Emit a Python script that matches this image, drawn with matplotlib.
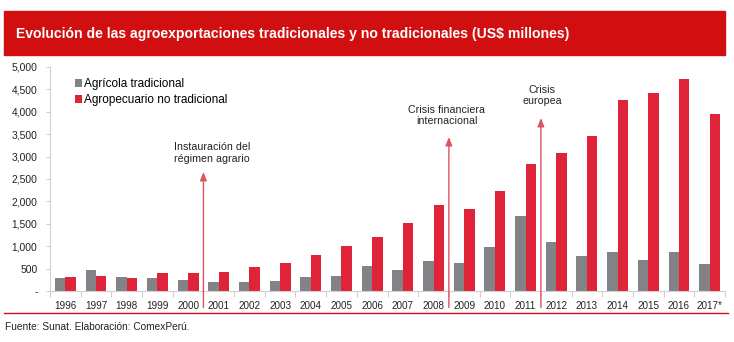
import numpy as np
import matplotlib.pyplot as plt
from matplotlib.patches import Rectangle
from matplotlib.lines import Line2D

#Data
years = ["1996", "1997", "1998", "1999", "2000", "2001", "2002", "2003", "2004", "2005", "2006",
         "2007", "2008", "2009", "2010", "2011", "2012", "2013", "2014", "2015", "2016", "2017*"]
tradicional = [298, 462, 320, 283, 246, 194, 194, 216, 320, 335, 559,
               462, 670, 618, 976, 1676, 1088, 775, 864, 693, 864, 596]
no_tradicional = [320, 335, 298, 395, 395, 425, 544, 618, 805, 998, 1214,
                  1512, 1922, 1825, 2228, 2838, 3084, 3457, 4261, 4418, 4738, 3956]
y_ticks = [0, 500, 1000, 1500, 2000, 2500, 3000, 3500, 4000, 4500, 5000]
y_labels = ["-", "500", "1,000", "1,500", "2,000", "2,500", "3,000", "3,500", "4,000", "4,500", "5,000"]

#Events marked with arrows: (position between years, arrow top, text, text x, text y)
events = [(4.5, 2656, "Instauración del\nrégimen agrario", 4.78, 3080),
          (12.5, 3437, "Crisis financiera\ninternacional", 12.43, 3917),
          (15.5, 3862, "Crisis\neuropea", 15.53, 4364)]

gray = "#838286"
red = "#DF2339"
title_red = "#D20F10"

plt.rcParams['font.family'] = ['Liberation Sans', 'DejaVu Sans']

fig = plt.figure(figsize=(7.34, 3.42), dpi=100)
ax = fig.add_axes([50/734, (342-291)/342, (725-50)/734, (291-67)/342])

x = np.arange(len(years))
w = 0.34
ax.bar(x - w/2, tradicional, w, color=gray, label="Agrícola tradicional")
ax.bar(x + w/2, no_tradicional, w, color=red, label="Agropecuario no tradicional")

ax.set_xlim(-0.5, len(years) - 0.5)
ax.set_ylim(0, 5000)
ax.set_yticks(y_ticks)
ax.set_yticklabels(y_labels)
ax.set_xticks(x)
ax.set_xticklabels(years)
ax.set_xticks(np.arange(len(years) + 1) - 0.5, minor=True)
ax.tick_params(axis='x', which='major', length=0, pad=7, labelsize=7.1, labelcolor="#222222")
ax.tick_params(axis='x', which='minor', length=4, color="#d0d0d0", width=0.8)
ax.tick_params(axis='y', length=3, color="#d0d0d0", width=0.8, pad=6, labelsize=7.4, labelcolor="#222222")

for s in ["top", "right"]:
    ax.spines[s].set_visible(False)
ax.spines["left"].set_color("#d0d0d0")
ax.spines["bottom"].set_color("#d0d0d0")
ax.spines["left"].set_linewidth(0.8)
ax.spines["bottom"].set_linewidth(0.8)

#Arrows for the events
for pos, top, txt, tx, ty in events:
    ax.annotate("", xy=(pos, top), xytext=(pos, -370), annotation_clip=False,
                arrowprops=dict(arrowstyle="-|>,head_length=0.5,head_width=0.2",
                                color="#DB5560", lw=1.0, shrinkA=0, shrinkB=0))
    ax.text(tx, ty, txt, ha="center", va="center", fontsize=7.7, color="#222222", linespacing=1.15)

ax.legend(loc="upper left", bbox_to_anchor=(0.02, 1.0), frameon=False, fontsize=8.5,
          handlelength=0.6, handleheight=0.6, handletextpad=0.2, labelspacing=0.35,
          borderaxespad=0.55)

#Title bar
fig.patches.append(Rectangle((4/734, (342-55)/342), (725-4)/734, 44/342, transform=fig.transFigure,
                             color=title_red, zorder=0))
fig.text(16/734, (342-34)/342, "Evolución de las agroexportaciones tradicionales y no tradicionales (US$ millones)",
         color="white", fontsize=10.1, fontweight="bold", va="center", ha="left")

#Footer
fig.lines.append(Line2D([4/734, 728/734], [(342-313)/342, (342-313)/342], transform=fig.transFigure,
                        color=title_red, lw=1))
fig.text(5/734, (342-327)/342, "Fuente: Sunat. Elaboración: ComexPerú.", fontsize=7.3, va="center",
         ha="left", color="#222222")

fig.savefig("out.png", dpi=100)
